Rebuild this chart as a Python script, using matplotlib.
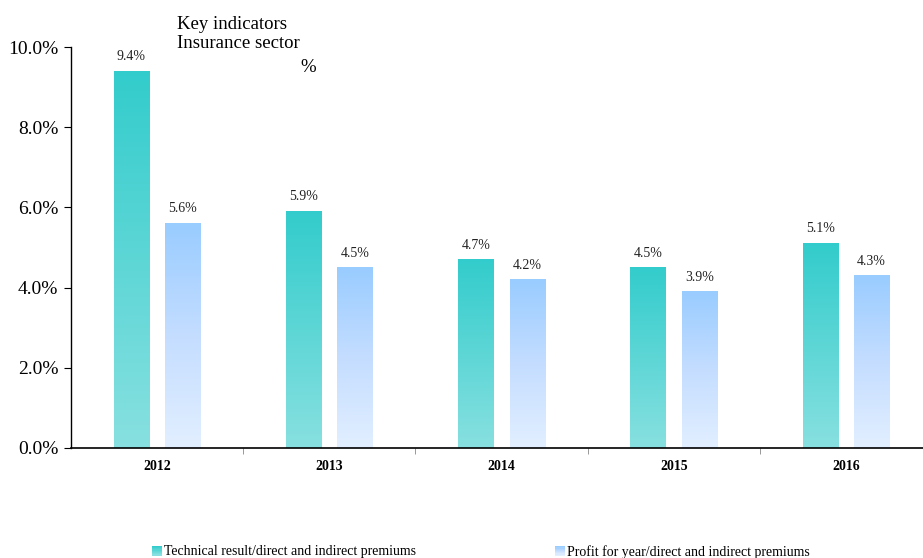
import numpy as np
import matplotlib
matplotlib.use("Agg")
import matplotlib.pyplot as plt
from matplotlib.colors import LinearSegmentedColormap
from matplotlib.legend_handler import HandlerBase
from matplotlib.patches import Rectangle
from matplotlib.ticker import FixedLocator, FuncFormatter

years = ["2012", "2013", "2014", "2015", "2016"]
technical = [9.4, 5.9, 4.7, 4.5, 5.1]
profit = [5.6, 4.5, 4.2, 3.9, 4.3]
series_names = ["Technical result/direct and indirect premiums",
                "Profit for year/direct and indirect premiums"]

plt.rcParams["font.family"] = ["Liberation Serif", "DejaVu Serif"]

teal_cmap = LinearSegmentedColormap.from_list("teal", ["#88E0E0", "#33CCCC"])
blue_cmap = LinearSegmentedColormap.from_list("blue", ["#E2EFFF", "#C4DDFF", "#99CCFF"])

fig = plt.figure(figsize=(9.23, 5.58), dpi=100)
ax = fig.add_axes([71 / 923, 1 - 448 / 558, (932 - 71) / 923, (448 - 47) / 558])

x = np.arange(len(years))
width = 0.205
offset = 0.149
grad = np.linspace(0, 1, 256).reshape(-1, 1)


def gradient_bars(xs, vals, cmap):
    for xi, v in zip(xs, vals):
        ax.imshow(grad, cmap=cmap, origin="lower", aspect="auto",
                  extent=(xi - width / 2, xi + width / 2, 0, v), zorder=2,
                  interpolation="bilinear")
        ax.text(xi, v + 0.2, f"{v:.1f}%", ha="center", va="bottom",
                fontsize=10, color="#222222")


gradient_bars(x - offset, technical, teal_cmap)
gradient_bars(x + offset, profit, blue_cmap)

ax.set_xlim(-0.5, len(years) - 0.5)
ax.set_ylim(0, 10)
ax.yaxis.set_major_locator(FixedLocator([0, 2, 4, 6, 8, 10]))
ax.yaxis.set_major_formatter(FuncFormatter(lambda v, p: f"{v:.1f}%"))
ax.tick_params(axis="y", labelsize=14, length=5, width=0.8, direction="out", pad=4)

ax.set_xticks(x)
ax.set_xticklabels(years, fontsize=10, fontweight="bold")
ax.tick_params(axis="x", which="major", length=0, pad=9)
ax.set_xticks(x[:-1] + 0.5, minor=True)
ax.tick_params(axis="x", which="minor", length=4, color="#888888", direction="out")

for side in ("top", "right"):
    ax.spines[side].set_visible(False)
ax.spines["left"].set_linewidth(1.0)
ax.spines["bottom"].set_linewidth(1.2)

fig.text(177 / 923, 1 - 34 / 558, "Key indicators\nInsurance sector",
         fontsize=13.5, ha="left", va="center", linespacing=1.15)
fig.text(300 / 923, 1 - 67 / 558, "%", fontsize=13.5, ha="left", va="center")


class GradientSquare(HandlerBase):
    def __init__(self, cmap):
        super().__init__()
        self.cmap = cmap

    def create_artists(self, legend, orig_handle, xdescent, ydescent,
                       width, height, fontsize, trans):
        n = 8
        size = height
        arts = []
        for i in range(n):
            r = Rectangle((-xdescent + width - size, -ydescent + i * size / n),
                          size, size / n, facecolor=self.cmap(i / (n - 1)),
                          edgecolor="none", transform=trans)
            arts.append(r)
        return arts


h1 = Rectangle((0, 0), 1, 1)
h2 = Rectangle((0, 0), 1, 1)
fig.legend([h1], [series_names[0]], loc="center left",
           bbox_to_anchor=(138 / 923, 1 - 552 / 558), frameon=False,
           fontsize=10, handlelength=0.8, handletextpad=0.15,
           handler_map={h1: GradientSquare(teal_cmap)})
fig.legend([h2], [series_names[1]], loc="center left",
           bbox_to_anchor=(541 / 923, 1 - 552 / 558), frameon=False,
           fontsize=10, handlelength=0.8, handletextpad=0.15,
           handler_map={h2: GradientSquare(blue_cmap)})

fig.savefig("out.png", dpi=100)
